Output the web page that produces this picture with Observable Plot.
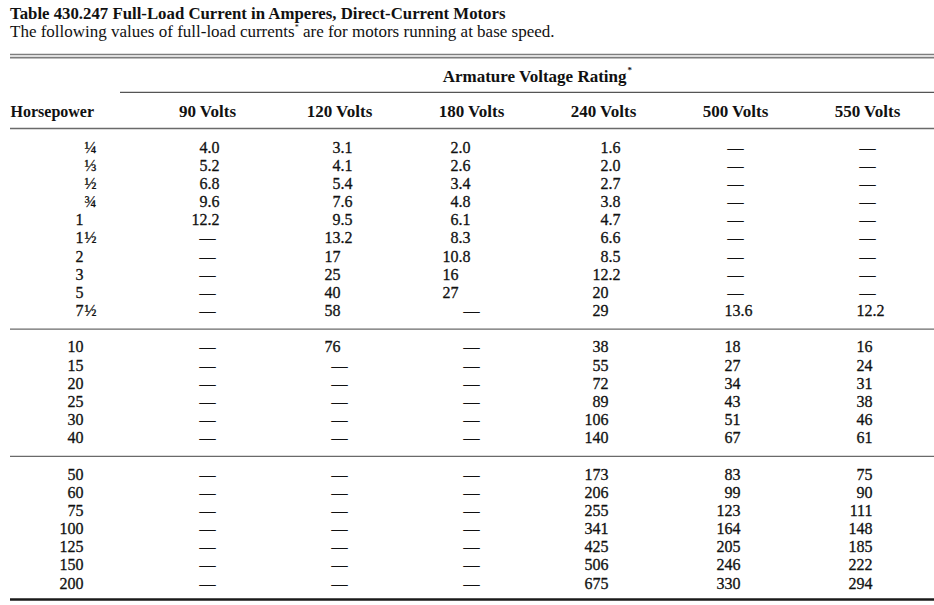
<!DOCTYPE html>
<html>
<head>
<meta charset="utf-8">
<script src="https://cdn.jsdelivr.net/npm/d3@7"></script>
<script src="https://cdn.jsdelivr.net/npm/@observablehq/plot@0.6"></script>
<style>
  html, body { margin: 0; padding: 0; background: #fff; }
  body { width: 934px; height: 605px; overflow: hidden; font-family: "Liberation Serif", serif; color: #111; }
  #title { font-weight: bold; font-size: 16.8px; line-height: 18px; padding: 5px 0 0 10px; white-space: nowrap; }
  #subtitle { font-size: 17px; line-height: 17px; height: 17px; padding-left: 10px; white-space: nowrap; }
  #subtitle sup { font-size: 8px; line-height: 0; vertical-align: 7px; }
  #chart svg { display: block; }
</style>
</head>
<body>
<div id="title">Table 430.247 Full-Load Current in Amperes, Direct-Current Motors</div>
<div id="subtitle">The following values of full-load currents<sup>*</sup> are for motors running at base speed.</div>
<div id="chart"></div>
<script>
// ---- data ----
const horsepower = ["¼","⅓","½","¾","1","1½","2","3","5","7½","10","15","20","25","30","40","50","60","75","100","125","150","200"];
const sectionSizes = [10, 6, 7];
const voltLabels = ["90 Volts","120 Volts","180 Volts","240 Volts","500 Volts","550 Volts"];
const groupLabel = "Armature Voltage Rating";
const rowHeader = "Horsepower";
const amps90  = ["4.0","5.2","6.8","9.6","12.2",null,null,null,null,null, null,null,null,null,null,null, null,null,null,null,null,null,null];
const amps120 = ["3.1","4.1","5.4","7.6","9.5","13.2","17","25","40","58", "76",null,null,null,null,null, null,null,null,null,null,null,null];
const amps180 = ["2.0","2.6","3.4","4.8","6.1","8.3","10.8","16","27",null, null,null,null,null,null,null, null,null,null,null,null,null,null];
const amps240 = ["1.6","2.0","2.7","3.8","4.7","6.6","8.5","12.2","20","29", "38","55","72","89","106","140", "173","206","255","341","425","506","675"];
const amps500 = [null,null,null,null,null,null,null,null,null,"13.6", "18","27","34","43","51","67", "83","99","123","164","205","246","330"];
const amps550 = [null,null,null,null,null,null,null,null,null,"12.2", "16","24","31","38","46","61", "75","90","111","148","185","222","294"];
const columns = [amps90, amps120, amps180, amps240, amps500, amps550];

// ---- layout ----
const FONT = "Liberation Serif, serif";
const ink = "#111";
const decimalShift = [0, 1, -13, 5, 5, 5];   // decimal point offset from the column centre
const hpDecimal = 83;                           // horsepower integer column edge

// row slot (sections separated by one blank slot)
function slotOf(i) {
  let slot = i, start = 0;
  for (let s = 0; s < sectionSizes.length; s++) {
    start += sectionSizes[s];
    if (i >= start) slot += 1;
  }
  return slot;
}
const breakSlots = [];
{ let start = 0; for (let s = 0; s < sectionSizes.length - 1; s++) { start += sectionSizes[s]; breakSlots.push(slotOf(start) - 1); } }
const lastSlot = slotOf(horsepower.length - 1);

const hpRows = horsepower.map((h, i) => {
  const m = h.match(/^(\d*)(\D*)$/);
  return {slot: slotOf(i), whole: m[1], frac: m[2]};
});

const textBase = {fontFamily: FONT, fontSize: 16, fill: ink, stroke: ink, strokeWidth: 0.3};
const headBase = {fontFamily: FONT, fontSize: 17, fill: ink, fontWeight: "bold"};

const valueMarks = voltLabels.flatMap((v, c) => {
  const cells = columns[c].map((val, i) => ({volt: v, slot: slotOf(i), val}));
  const nums = cells.filter(d => d.val != null).map(d => {
    const [a, b] = d.val.split(".");
    return {...d, intPart: a, decPart: b != null ? "." + b : ""};
  });
  const dashes = cells.filter(d => d.val == null);
  return [
    Plot.text(nums, {...textBase, x: "volt", y: "slot", text: "intPart", textAnchor: "end", dx: decimalShift[c]}),
    Plot.text(nums.filter(d => d.decPart), {...textBase, x: "volt", y: "slot", text: "decPart", textAnchor: "start", dx: decimalShift[c]}),
    Plot.text(dashes, {...textBase, x: "volt", y: "slot", text: () => "—", textAnchor: "middle"})
  ];
});

const chart = Plot.plot({
  width: 934,
  height: 565,
  margin: 0,
  style: {fontFamily: FONT, background: "#fff", overflow: "visible"},
  x: {type: "point", domain: voltLabels, range: [205, 869], padding: 0, axis: null},
  y: {domain: [0, lastSlot], range: [107, 543], axis: null},
  marks: [
    // rules
    Plot.ruleY([-5.12, -4.95], {stroke: "#7d7d7d", strokeWidth: 1.6, insetLeft: 10}),
    Plot.ruleY([-3.03], {stroke: "#555", strokeWidth: 1.2, insetLeft: 120}),
    Plot.ruleY([-1.05], {stroke: "#6a6a6a", strokeWidth: 1.6, insetLeft: 10}),
    Plot.ruleY(breakSlots, {stroke: "#6a6a6a", strokeWidth: 1.4, insetLeft: 10}),
    Plot.ruleY([lastSlot + 0.88], {stroke: "#1a1a1a", strokeWidth: 2.6, insetLeft: 10}),
    // headers
    Plot.text([groupLabel], {...headBase, frameAnchor: "left", dx: 626, y: () => -3.91, text: d => d, textAnchor: "end"}),
    Plot.text(["*"], {...headBase, fontSize: 9, frameAnchor: "left", dx: 627, dy: -6, y: () => -3.91, text: d => d, textAnchor: "start"}),
    Plot.text([rowHeader], {...headBase, fontSize: 16, frameAnchor: "left", dx: 10, y: () => -1.98, text: d => d, textAnchor: "start"}),
    Plot.text(voltLabels, {...headBase, x: d => d, y: () => -1.98, text: d => d, textAnchor: "middle"}),
    // horsepower column
    Plot.text(hpRows.filter(d => d.whole), {...textBase, frameAnchor: "left", dx: hpDecimal, y: "slot", text: "whole", textAnchor: "end"}),
    Plot.text(hpRows.filter(d => d.frac), {...textBase, frameAnchor: "left", dx: hpDecimal + 1, y: "slot", text: "frac", textAnchor: "start"}),
    // values
    ...valueMarks
  ]
});
document.getElementById("chart").appendChild(chart);
</script>
</body>
</html>
